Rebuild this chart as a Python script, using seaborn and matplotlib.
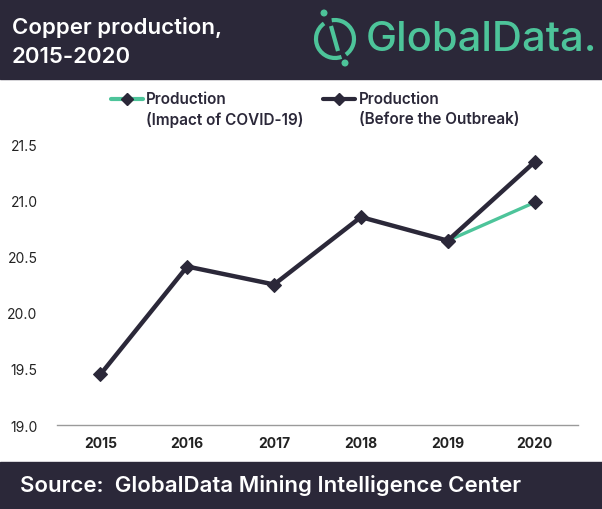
import matplotlib
matplotlib.use("Agg")
import matplotlib.pyplot as plt
from matplotlib.patches import Rectangle, Arc, Circle
from matplotlib.lines import Line2D
import seaborn as sns
import pandas as pd

# values
years = ["2015", "2016", "2017", "2018", "2019", "2020"]
before_outbreak = [19.45, 20.41, 20.25, 20.85, 20.64, 21.34]
covid_years = ["2019", "2020"]
covid_impact = [20.64, 20.98]
y_ticks = [19.0, 19.5, 20.0, 20.5, 21.0, 21.5]
legend_labels = ["Production\n(Impact of COVID-19)", "Production\n(Before the Outbreak)"]

DARK = "#2b2839"
GREEN = "#4dc49a"

sns.set_style("white")
plt.rcParams["font.family"] = ["Inter", "DejaVu Sans"]

df_before = pd.DataFrame({"year": years, "value": before_outbreak})
df_covid = pd.DataFrame({"year": covid_years, "value": covid_impact})

W, H = 602, 510
fig = plt.figure(figsize=(W / 100, H / 100), dpi=100)
ax = fig.add_axes([57 / W, 1 - 426 / H, 521 / W, 281 / H])

sns.lineplot(data=df_before, x="year", y="value", ax=ax, color=DARK, lw=3.2,
             marker="D", markersize=7, markerfacecolor=DARK, markeredgecolor=DARK,
             zorder=3, legend=False)
sns.lineplot(data=df_covid, x="year", y="value", ax=ax, color=GREEN, lw=2.4,
             marker="D", markersize=7, markerfacecolor=DARK, markeredgecolor=DARK,
             zorder=2, legend=False)

ax.set_xlim(-0.5, len(years) - 0.5)
ax.set_ylim(19.0, 21.5)
ax.set_yticks(y_ticks)
ax.set_yticklabels([f"{t:.1f}" for t in y_ticks], fontsize=10, color="#222222")
ax.set_xticks(range(len(years)))
ax.set_xticklabels(years, fontsize=10, fontweight="bold", color="#222222")
ax.tick_params(length=0, pad=8)
ax.tick_params(axis="y", pad=14)
ax.set_xlabel("")
ax.set_ylabel("")
for s in ["top", "right", "left"]:
    ax.spines[s].set_visible(False)
ax.spines["bottom"].set_color("#9a9a9a")
ax.spines["bottom"].set_linewidth(1.0)

# legend, handle level with the first text line
legend_colors = [GREEN, DARK]
legend_x = [(111, 143, 146), (323, 355, 359)]
for (x0, x1, tx), c, lab in zip(legend_x, legend_colors, legend_labels):
    yl = 1 - 100 / H
    fig.add_artist(Line2D([x0 / W, x1 / W], [yl, yl], transform=fig.transFigure,
                          color=c, lw=3))
    fig.add_artist(Line2D([(x0 + x1) / 2 / W], [yl], transform=fig.transFigure,
                          marker="D", markersize=6, color=DARK, lw=0))
    fig.text(tx / W, 1 - 92 / H, lab, color=DARK, fontsize=11, fontweight="semibold",
             va="top", ha="left", linespacing=1.4)

# header band
fig.add_artist(Rectangle((0, 1 - 80 / H), 1, 80 / H, transform=fig.transFigure,
                         color=DARK, zorder=0))
fig.text(12 / W, 1 - 27 / H, "Copper production,", color="white",
         fontsize=16, fontweight="semibold", va="center", ha="left")
fig.text(12 / W, 1 - 57 / H, "2015-2020", color="white",
         fontsize=16, fontweight="semibold", va="center", ha="left")
fig.text(366 / W, 1 - 40 / H, "GlobalData.", color=GREEN,
         fontsize=30, fontweight="medium", va="center", ha="left")

# logo icon
iax = fig.add_axes([305 / W, 1 - 75 / H, 60 / W, 70 / H])
iax.set_xlim(305, 365)
iax.set_ylim(-75, -5)
iax.axis("off")
iax.add_patch(Arc((335, -40), 38, 38, theta1=125, theta2=290, color=GREEN, lw=3))
iax.add_patch(Arc((335, -40), 38, 38, theta1=-55, theta2=100, color=GREEN, lw=3))
iax.plot([331, 338], [-27, -52], color=GREEN, lw=3, solid_capstyle="butt")
iax.add_patch(Circle((324, -14), 2.8, color=GREEN))
iax.add_patch(Circle((345, -64), 2.8, color=GREEN))

# footer band
fig.add_artist(Rectangle((0, 0), 1, 47 / H, transform=fig.transFigure,
                         color=DARK, zorder=0))
fig.text(20 / W, 24 / H, "Source:  GlobalData Mining Intelligence Center",
         color="white", fontsize=16, fontweight="semibold", va="center", ha="left")

fig.savefig("out.png", dpi=100, facecolor="white")
